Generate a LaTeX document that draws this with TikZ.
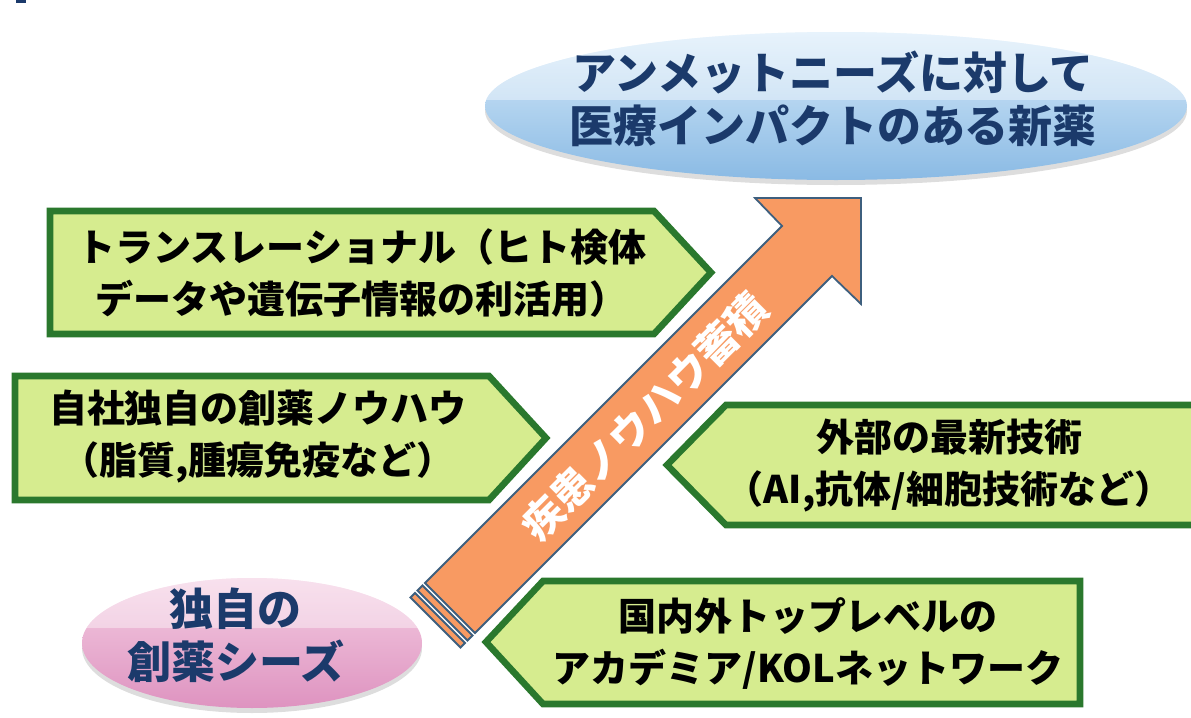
\documentclass[tikz,border=0pt]{standalone}
\usepackage{fontspec}
\setmainfont{Noto Sans CJK JP}[BoldFont={Noto Sans CJK JP Black}]
\usetikzlibrary{shapes.geometric,shadows}
\definecolor{navy}{HTML}{1B3A6B}
\definecolor{gfill}{HTML}{D6EC8F}
\definecolor{gline}{HTML}{2A782D}
\definecolor{orng}{HTML}{F89A62}
\definecolor{aline}{HTML}{3E5F7E}
\definecolor{blueT}{HTML}{D8EBFA}
\definecolor{blueB}{HTML}{8ABAE4}
\definecolor{pinkT}{HTML}{F4CDE2}
\definecolor{pinkB}{HTML}{DE93C0}
\begin{document}
\begin{tikzpicture}[x=0.5pt,y=-0.5pt,
  greenbox/.style={draw=gline,fill=gfill,line width=3.3pt,line join=miter},
  boxtext/.style={font=\bfseries\fontsize{19}{26}\selectfont,align=center,text=black,inner sep=0pt},
  ovaltext/.style={font=\bfseries\fontsize{22}{26.5}\selectfont,align=center,text=navy,inner sep=0pt},
  oval/.style={ellipse,inner sep=0pt,drop shadow={shadow xshift=0pt,shadow yshift=-2.5pt,opacity=0.22,fill=black!60}},
  arrowpart/.style={draw=aline,fill=orng,line width=0.9pt,line join=miter},
  gloss/.style={fill=white,opacity=0.4}]
\useasboundingbox (0,0) rectangle (1191,718);
\fill[navy] (16,0) rectangle (26,2.5);

% top goal ellipse
\node[oval,minimum width=351pt,minimum height=74pt,top color=blueT,bottom color=blueB] (goal) at (836,106) {};
\begin{scope}
  \clip (836,106) ellipse [x radius=175.5pt, y radius=37pt];
  \fill[gloss] (480,20) rectangle (1200,100);
\end{scope}
\node[ovaltext] (goaltext) at (833,98.5) {アンメットニーズに対して\\医療インパクトのある新薬};

% bottom seed ellipse
\node[oval,minimum width=170pt,minimum height=65pt,top color=pinkT,bottom color=pinkB] (seed) at (252,643) {};
\begin{scope}
  \clip (252,643) ellipse [x radius=85pt, y radius=32.5pt];
  \fill[gloss] (70,570) rectangle (440,628);
\end{scope}
\node[ovaltext] (seedtext) at (236,635) {独自の\\創薬シーズ};

% green boxes
\draw[greenbox] (50,211) -- (654,211) -- (711,272.5) -- (654,334) -- (50,334) -- cycle;
\node[boxtext] (t1) at (362,273.5) {トランスレーショナル（ヒト検体\\データや遺伝子情報の利活用）};

\draw[greenbox] (15,376) -- (489,376) -- (546,438) -- (489,500) -- (15,500) -- cycle;
\node[boxtext] (t2) at (258,437) {自社独自の創薬ノウハウ\\（脂質,腫瘍免疫など）};

\draw[greenbox] (667,465) -- (726,405) -- (1200,405) -- (1200,525) -- (726,525) -- cycle;
\node[boxtext] (t3) at (949,466) {外部の最新技術\\（AI,抗体/細胞技術など）};

\draw[greenbox] (486,642) -- (543,581) -- (1080,581) -- (1080,704) -- (543,704) -- cycle;
\node[boxtext] (t4) at (808,644) {国内外トップレベルの\\アカデミア/KOLネットワーク};

% orange arrow
\draw[arrowpart] (425,583) -- (782,226) -- (755,198) -- (861,198) -- (861,304) -- (832,276) -- (475,633) -- cycle;
\draw[arrowpart] (422.5,585.5) -- (472.5,635.5) -- (467.5,640.5) -- (417.5,590.5) -- cycle;
\draw[arrowpart] (415,593) -- (465,643) -- (460.5,647.5) -- (410.5,597.5) -- cycle;
\node[rotate=45,text=white,font=\bfseries\fontsize{20.5}{24}\selectfont,inner sep=0pt] (flow) at (645,417) {疾患ノウハウ蓄積};
\end{tikzpicture}
\end{document}
